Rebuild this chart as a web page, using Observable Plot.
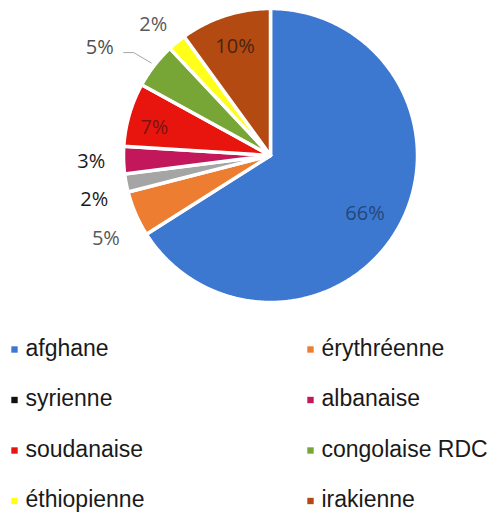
<!DOCTYPE html>
<html><head><meta charset="utf-8">
<script src="https://cdn.jsdelivr.net/npm/d3@7"></script>
<script src="https://cdn.jsdelivr.net/npm/@observablehq/plot@0.6"></script>
<style>body{margin:0;background:#fff}</style>
</head><body><div id="chart"></div>
<script>
// ---- data ----
const categories = ["afghane", "érythréenne", "syrienne", "albanaise", "soudanaise", "congolaise RDC", "éthiopienne", "irakienne"];
const shares = [66, 5, 2, 3, 7, 5, 2, 10];
const labels = ["66%", "5%", "2%", "3%", "7%", "5%", "2%", "10%"];

// ---- styles / layout ----
const sliceColor = {"afghane":"#3d78d0","érythréenne":"#ed7d31","syrienne":"#a5a5a5","albanaise":"#c2185b",
  "soudanaise":"#e8140e","congolaise RDC":"#77a536","éthiopienne":"#ffff1a","irakienne":"#b34a12"};
const legendColor = {...sliceColor, "syrienne":"#111111"};
const labelColor = {"afghane":"#24477a","érythréenne":"#595959","syrienne":"#1a1a1a","albanaise":"#1a1a1a",
  "soudanaise":"#7a1414","congolaise RDC":"#505050","éthiopienne":"#595959","irakienne":"#4a2410"};
const labelNudge = {"syrienne":[0,10],"érythréenne":[0,12],"congolaise RDC":[-29,2],"éthiopienne":[-3,7],
  "afghane":[-6,3],"soudanaise":[-6,4]};
const W = 494, H = 515, cx = 270, cy = 155, R = 147;

const total = d3.sum(shares);
let acc = 0;
const slices = categories.map((c, i) => {
  const a0 = acc / total * 2 * Math.PI; acc += shares[i];
  const a1 = acc / total * 2 * Math.PI;
  return {c, v: shares[i], a0, a1, mid: (a0 + a1) / 2, label: labels[i], inside: shares[i] >= 7};
});
const pt = (a, r) => [cx + r * Math.sin(a), cy - r * Math.cos(a)];

const polyRows = slices.flatMap(s => {
  const n = Math.max(2, Math.ceil((s.a1 - s.a0) / (Math.PI / 360)));
  const rows = [{c: s.c, x: cx, y: cy}];
  for (let k = 0; k <= n; k++) {
    const [x, y] = pt(s.a0 + (s.a1 - s.a0) * k / n, R);
    rows.push({c: s.c, x, y});
  }
  return rows;
});

const labelRows = slices.map(s => {
  const [x, y] = pt(s.mid, s.inside ? 0.78 * R : 1.22 * R);
  const [dx, dy] = labelNudge[s.c] || [0, 0];
  return {c: s.c, text: s.label, x: x + dx, y: y + dy};
});

// leader line for the displaced label
const leaderRows = [];
slices.forEach(s => {
  if (s.c === "congolaise RDC") {
    const l = labelRows.find(d => d.c === s.c);
    const [ex, ey] = pt(s.mid, R + 4);
    leaderRows.push({x: l.x + 24, y: l.y + 5}, {x: l.x + 34, y: l.y + 5}, {x: ex, y: ey});
  }
});

const legendRows = categories.map((c, i) => ({
  c, col: i % 2, row: Math.floor(i / 2),
  x: i % 2 === 0 ? 25 : 321,
  y: 355 + Math.floor(i / 2) * 50.5
}));

const chart = Plot.plot({
  width: W, height: H, margin: 0,
  style: {background: "#fff"},
  x: {domain: [0, W], range: [0, W], axis: null},
  y: {domain: [0, H], range: [0, H], axis: null},
  color: {type: "identity"},
  marks: [
    Plot.line(polyRows, {x: "x", y: "y", z: "c", fill: d => sliceColor[d.c], curve: "linear-closed",
      stroke: "white", strokeWidth: 3.5, strokeLinejoin: "round"}),
    Plot.line(leaderRows, {x: "x", y: "y", stroke: "#a6a6a6", strokeWidth: 1}),
    Plot.text(labelRows, {x: "x", y: "y", text: "text", fill: d => labelColor[d.c],
      fontSize: 20, fontFamily: "'Open Sans', 'Liberation Sans', sans-serif"}),
    Plot.dot(legendRows, {x: d => d.x - 11, y: d => d.y - 6, symbol: "square", r: 3.6,
      fill: d => legendColor[d.c], stroke: null}),
    Plot.text(legendRows, {x: "x", y: "y", text: "c", textAnchor: "start", lineAnchor: "bottom",
      fill: "#1a1a1a", fontSize: 23, fontFamily: "'Liberation Sans', Arial, sans-serif"})
  ]
});
document.getElementById("chart").append(chart);
</script>
</body></html>
